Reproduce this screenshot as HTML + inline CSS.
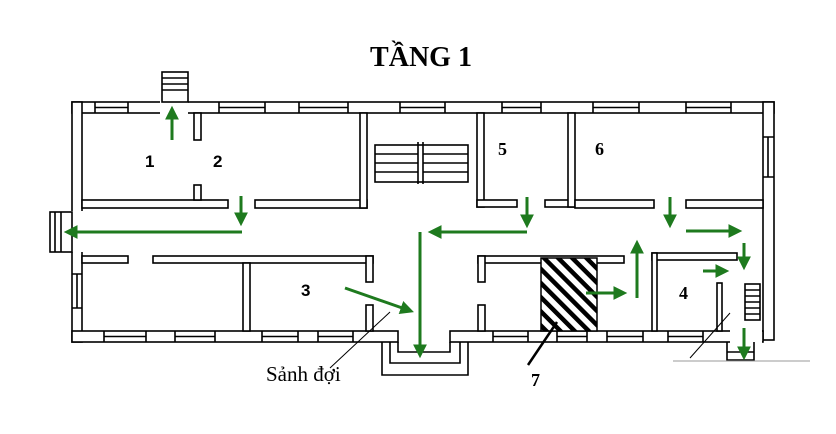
<!DOCTYPE html>
<html><head><meta charset="utf-8"><style>
html,body{margin:0;padding:0;background:#fff;}
svg{display:block}
</style></head><body>
<svg width="836" height="434" viewBox="0 0 836 434" xmlns="http://www.w3.org/2000/svg">
<defs>
<marker id="ah" markerWidth="4.6" markerHeight="4.6" refX="2.5" refY="2.3" orient="auto" markerUnits="strokeWidth">
<path d="M0,0 L4.6,2.3 L0,4.6 z" fill="#1e7a1e"/></marker>
<pattern id="hatch" width="10" height="10" patternUnits="userSpaceOnUse" patternTransform="rotate(-45)">
<rect width="10" height="10" fill="#fff"/><rect width="4.5" height="10" fill="#000"/></pattern>
</defs>
<text x="421" y="66" text-anchor="middle" font-family="Liberation Serif, serif" font-weight="bold" font-size="28">TẦNG 1</text>
<g fill="#fff" stroke="#000" stroke-width="1.6">
<rect x="72" y="102" width="702" height="11"/>
<rect x="72" y="102" width="10" height="240"/>
<rect x="763" y="102" width="11" height="238"/>
<rect x="72" y="331" width="326" height="11"/>
<rect x="450" y="331" width="313" height="11"/>
<rect x="160" y="101" width="28" height="13" stroke="none"/>
<rect x="71" y="211" width="12" height="41" stroke="none"/>
<rect x="730" y="330" width="32" height="13" stroke="none"/>
<rect x="82" y="200" width="146" height="8"/>
<rect x="255" y="200" width="112" height="8"/>
<rect x="360" y="113" width="7" height="95"/>
<rect x="194" y="113" width="7" height="27"/>
<rect x="194" y="185" width="7" height="15"/>
<rect x="477" y="113" width="7" height="94"/>
<rect x="477" y="200" width="40" height="7"/>
<rect x="545" y="200" width="30" height="7"/>
<rect x="568" y="113" width="7" height="94"/>
<rect x="575" y="200" width="79" height="8"/>
<rect x="686" y="200" width="77" height="8"/>
<rect x="82" y="256" width="46" height="7"/>
<rect x="153" y="256" width="220" height="7"/>
<rect x="366" y="256" width="7" height="26"/>
<rect x="366" y="305" width="7" height="26"/>
<rect x="243" y="263" width="7" height="68"/>
<rect x="478" y="256" width="146" height="7"/>
<rect x="478" y="256" width="7" height="26"/>
<rect x="478" y="305" width="7" height="26"/>
<rect x="652" y="253" width="85" height="7"/>
<rect x="652" y="253" width="5" height="78"/>
<rect x="717" y="283" width="5" height="48"/>
</g>
<g fill="none" stroke="#000" stroke-width="1.6">
<path d="M95 102V113M128 102V113M95 107.5H128M219 102V113M265 102V113M219 107.5H265M299 102V113M348 102V113M299 107.5H348M400 102V113M445 102V113M400 107.5H445M502 102V113M541 102V113M502 107.5H541M593 102V113M639 102V113M593 107.5H639M686 102V113M731 102V113M686 107.5H731"/>
<path d="M104 331V342M146 331V342M104 336.5H146M175 331V342M215 331V342M175 336.5H215M262 331V342M298 331V342M262 336.5H298M318 331V342M353 331V342M318 336.5H353M493 331V342M528 331V342M493 336.5H528M557 331V342M587 331V342M557 336.5H587M607 331V342M643 331V342M607 336.5H643M668 331V342M703 331V342M668 336.5H703"/>
<path d="M77 274V308M72 274H82M72 308H82M768 137V177M763 137H774M763 177H774"/>
<rect x="162" y="72" width="26" height="30"/>
<path d="M162 78H188M162 84H188M162 90H188"/>
<rect x="50" y="212" width="22" height="40"/>
<path d="M55 212V252M61 212V252"/>
<rect x="375" y="145" width="93" height="37"/>
<path d="M418 142V184M423 142V184M375 154H418M375 163H418M375 172H418M423 154H468M423 163H468M423 172H468"/>
<path d="M398 342V352H450V342M390 342V363H460V342M382 342V375H468V342"/>
<rect x="745" y="284" width="15" height="36"/>
<path d="M745 290H760M745 296H760M745 302H760M745 308H760M745 314H760"/>
<path d="M727 342V360H754V342M727 352H754"/>
</g>
<path d="M673 361H810" stroke="#999" stroke-width="1"/>
<rect x="541" y="258" width="56" height="73" fill="url(#hatch)" stroke="#000" stroke-width="1.5"/>
<path d="M330 368L390 312M690 358L730 313" stroke="#000" stroke-width="1"/>
<path d="M528 365L557 322" stroke="#000" stroke-width="2.5"/>
<g stroke="#1e7a1e" stroke-width="3" fill="none" marker-end="url(#ah)">
<path d="M172 140V112"/>
<path d="M241 196V220"/>
<path d="M242 232H70"/>
<path d="M420 232V352"/>
<path d="M527 232H434"/>
<path d="M527 197V222"/>
<path d="M345 288L408 310"/>
<path d="M670 197V222"/>
<path d="M686 231H736"/>
<path d="M744 243V264"/>
<path d="M637 298V246"/>
<path d="M586 293H621"/>
<path d="M703 271H723"/>
<path d="M744 328V354"/>
</g>
<g font-family="Liberation Sans, sans-serif" font-weight="bold" font-size="17" fill="#000">
<text x="145" y="167">1</text><text x="213" y="167">2</text><text x="301" y="296">3</text>
</g>
<g font-family="Liberation Serif, serif" font-weight="bold" font-size="18" fill="#000">
<text x="498" y="155">5</text><text x="595" y="155">6</text><text x="679" y="299">4</text>
<text x="531" y="386">7</text>
</g>
<text x="266" y="381" font-family="Liberation Serif, serif" font-size="21">Sảnh đợi</text>
</svg>
</body></html>
